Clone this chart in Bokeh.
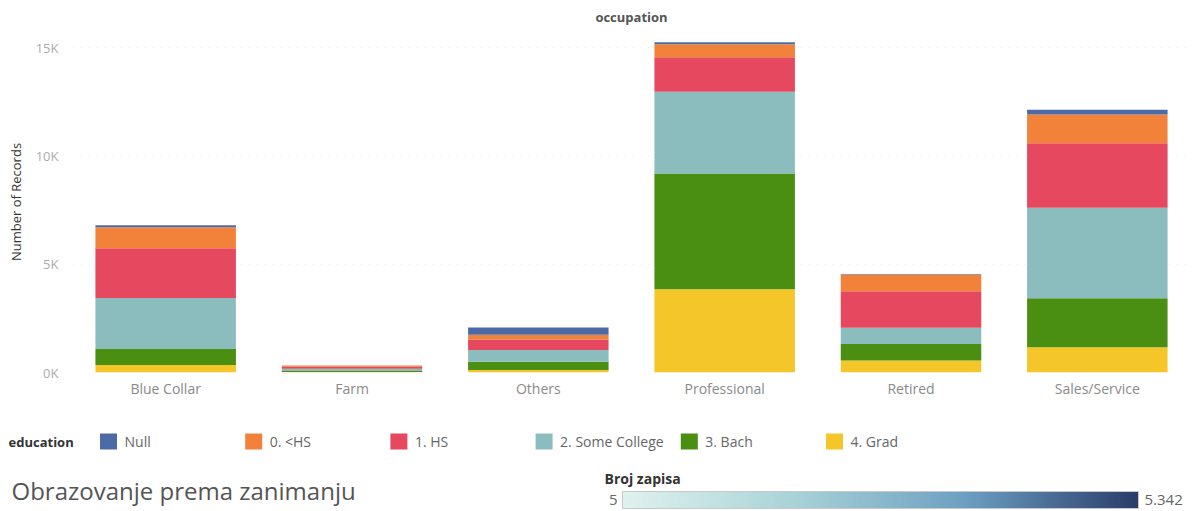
import numpy as np
from bokeh.plotting import figure
from bokeh.models import FixedTicker, Range1d, FactorRange, LinearColorMapper, ColumnDataSource
from bokeh.layouts import column, row
from bokeh.embed import file_html
from bokeh.resources import INLINE
from bokeh.core.properties import value

# ---------------- data ----------------
occupations = ["Blue Collar", "Farm", "Others", "Professional", "Retired", "Sales/Service"]
education = ["Null", "0. <HS", "1. HS", "2. Some College", "3. Bach", "4. Grad"]
edu_colors = ["#4c6ba6", "#f2823a", "#e6495f", "#8bbdbf", "#4b8f12", "#f5c62a"]

null_v = [90, 5, 340, 90, 20, 220]
lt_hs = [970, 40, 210, 600, 770, 1320]
hs = [2300, 110, 490, 1600, 1690, 2980]
some_college = [2350, 100, 540, 3780, 750, 4190]
bach = [740, 50, 380, 5342, 770, 2260]
grad = [350, 20, 120, 3850, 550, 1170]

y_ticks = [0, 5000, 10000, 15000]
y_tick_labels = ["0K", "5K", "10K", "15K"]

colorbar_title = "Broj zapisa"
colorbar_low = 5
colorbar_high = 5342
colorbar_low_label = "5"
colorbar_high_label = "5.342"
colorbar_stops = ["#e0f2ef", "#a9d3d7", "#6d9fc2", "#2a3d6b"]

chart_title = "Obrazovanje prema zanimanju"

FONT = "Open Sans"
W = 1190
LEFT = 72

# ---------------- main chart ----------------
src = ColumnDataSource(dict(
    occupation=occupations, null=null_v, lt_hs=lt_hs, hs=hs,
    some_college=some_college, bach=bach, grad=grad,
))
keys = ["null", "lt_hs", "hs", "some_college", "bach", "grad"]
stack_keys = keys[::-1]
stack_colors = edu_colors[::-1]

p = figure(
    x_range=FactorRange(*occupations, range_padding=0),
    y_range=Range1d(0, 15760),
    width=W, height=400,
    output_backend="svg", toolbar_location=None,
    min_border_left=LEFT, min_border_right=0,
    min_border_top=30, min_border_bottom=28,
)
p.vbar_stack(stack_keys, x="occupation", width=0.754, fill_color=stack_colors,
             line_color=None, source=src)

p.title.text = "occupation"
p.title.align = "center"
p.title.text_font = FONT
p.title.text_font_size = "13px"
p.title.text_font_style = "bold"
p.title.text_color = "#555555"
p.title.standoff = 11

p.outline_line_color = None
p.xgrid.grid_line_color = None
p.ygrid.ticker = FixedTicker(ticks=y_ticks[1:])
p.ygrid.grid_line_color = "#e9e9e9"
p.ygrid.grid_line_dash = "1 7"

p.yaxis.ticker = FixedTicker(ticks=y_ticks)
p.yaxis.major_label_overrides = {t: l for t, l in zip(y_ticks, y_tick_labels)}
p.yaxis.axis_line_color = None
p.yaxis.major_tick_line_color = None
p.yaxis.minor_tick_line_color = None
p.yaxis.major_label_standoff = 8
p.yaxis.major_label_text_font = FONT
p.yaxis.major_label_text_font_size = "13px"
p.yaxis.major_label_text_color = "#ababab"
p.yaxis.major_label_text_baseline = "bottom"
p.yaxis.axis_label = "Number of Records"
p.yaxis.axis_label_text_font = FONT
p.yaxis.axis_label_text_font_size = "13px"
p.yaxis.axis_label_text_font_style = "normal"
p.yaxis.axis_label_text_color = "#333333"
p.yaxis.axis_label_standoff = 8

p.xaxis.axis_line_color = None
p.xaxis.major_tick_line_color = None
p.xaxis.minor_tick_line_color = None
p.xaxis.major_label_standoff = 0
p.xaxis.major_label_text_font = FONT
p.xaxis.major_label_text_font_size = "14px"
p.xaxis.major_label_text_color = "#8a8a8a"

# ---------------- footer: legend, title, color bar ----------------
FH = 110
f = figure(width=W, height=FH, x_range=Range1d(0, W), y_range=Range1d(FH, 0),
           output_backend="svg", toolbar_location=None, min_border=0,
           x_axis_type=None, y_axis_type=None)
f.outline_line_color = None
f.grid.visible = False

leg_y = 41
sw_x = [108 + i * 145.2 for i in range(len(education))]
f.text(x=[8], y=[leg_y], text=["education"], text_font=value(FONT),
       text_font_size="13px", text_font_style="bold", text_color="#333333",
       text_baseline="middle", text_align="left")
f.rect(x=sw_x, y=[leg_y] * len(education), width=17, height=16,
       fill_color=edu_colors, line_color=None)
f.text(x=[x + 16 for x in sw_x], y=[leg_y] * len(education), text=education,
       text_font=value(FONT), text_font_size="14px", text_color="#666666",
       text_baseline="middle", text_align="left")

f.text(x=[11], y=[90], text=[chart_title], text_font=value(FONT),
       text_font_size="24px", text_color="#555555",
       text_baseline="middle", text_align="left")

# gradient color bar
def interp_palette(stops, n=256):
    rgb = np.array([[int(c[i:i + 2], 16) for i in (1, 3, 5)] for c in stops], float)
    pos = np.linspace(0, 1, len(stops))
    t = np.linspace(0, 1, n)
    out = []
    for k in t:
        r, g, b = (np.interp(k, pos, rgb[:, j]) for j in range(3))
        out.append("#%02x%02x%02x" % (int(r), int(g), int(b)))
    return out

pal = interp_palette(colorbar_stops)
mapper = LinearColorMapper(palette=pal, low=colorbar_low, high=colorbar_high)
bar_x0, bar_x1, bar_y0, bar_h = 622, 1138, 91, 17
ramp = np.linspace(colorbar_low, colorbar_high, 256).reshape(1, 256)
f.image(image=[ramp], x=bar_x0, y=bar_y0, dw=bar_x1 - bar_x0, dh=bar_h, color_mapper=mapper)
f.quad(left=[bar_x0], right=[bar_x1], top=[bar_y0], bottom=[bar_y0 + bar_h],
       fill_color=None, line_color="#c8c8c8", line_width=1)

f.text(x=[604], y=[78], text=[colorbar_title], text_font=value(FONT),
       text_font_size="14px", text_font_style="bold", text_color="#333333",
       text_baseline="middle", text_align="left")
f.text(x=[bar_x0 - 5], y=[bar_y0 + bar_h / 2], text=[colorbar_low_label],
       text_font=value(FONT), text_font_size="15px", text_color="#666666",
       text_baseline="middle", text_align="right")
f.text(x=[bar_x1 + 6], y=[bar_y0 + bar_h / 2], text=[colorbar_high_label],
       text_font=value(FONT), text_font_size="15px", text_color="#666666",
       text_baseline="middle", text_align="left")

layout = column(row(p), row(f), spacing=0)
open("out.html", "w").write(file_html(layout, INLINE))
